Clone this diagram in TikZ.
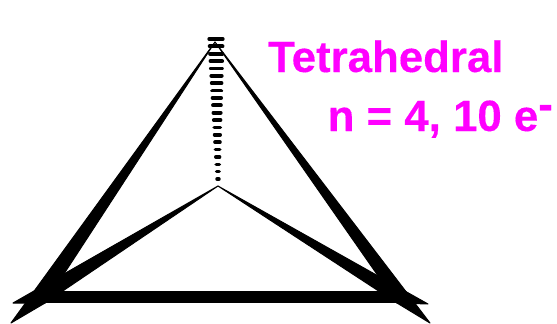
\documentclass[tikz,border=0pt]{standalone}
\usepackage{fontspec}
\setmainfont{Liberation Sans}
\newfontfamily\labelfont[FakeBold=0.25]{Liberation Sans Bold}
\definecolor{labelpink}{RGB}{255,0,255}

\begin{document}
\begin{tikzpicture}[
        x=1pt, y=-1pt,
        wedge/.style={fill=black, draw=black, line width=1pt, line join=round},
        hash/.style={black, line cap=round},
        label/.style={anchor=base west, inner sep=0pt, text=labelpink,
            font=\fontsize{43.8}{44}\labelfont}
    ]
        \useasboundingbox (0,0) rectangle (557,324);
        % corners of the tetrahedron
        \coordinate (top) at (215,42);
        \coordinate (mid) at (218,186);
        \coordinate (leftout) at (11,323);
        \coordinate (leftback) at (13,303);
        \coordinate (leftin) at (45,303);
        \coordinate (rightout) at (430,323);
        \coordinate (rightback) at (428,304);
        \coordinate (rightin) at (397,303);
        % bonds
        \filldraw[wedge] (top) -- (leftout) -- (leftin) -- cycle;
        \filldraw[wedge] (top) -- (rightout) -- (rightin) -- cycle;
        \filldraw[wedge] (mid) -- (leftback) -- (leftin) -- cycle;
        \filldraw[wedge] (mid) -- (rightback) -- (rightin) -- cycle;
        \fill[black] (45,291) rectangle (397,303);
        % hashed bond
        \foreach \i in {0,...,19} {
            \pgfmathsetmacro{\ypos}{39+7.37*\i}
            \pgfmathsetmacro{\xpos}{216+0.105*\i}
            \pgfmathsetmacro{\halfw}{6.7-0.3*\i}
            \pgfmathsetmacro{\lw}{4-0.03*\i}
            \draw[hash, line width=\lw pt] (\xpos-\halfw,\ypos) -- (\xpos+\halfw,\ypos);
        }
        \node[label] (title) at (268,72) {Tetrahedral};
        \node[label] (count) at (327.5,131) {n = 4, 10 e\raisebox{12pt}{-}};
    \end{tikzpicture}
\end{document}
